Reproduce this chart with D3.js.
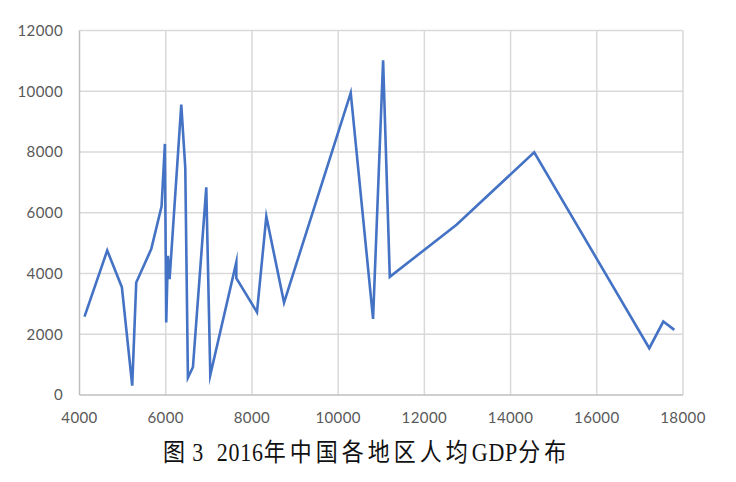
<!DOCTYPE html>
<html><head><meta charset="utf-8">
<script src="https://cdn.jsdelivr.net/npm/d3@7"></script>
<style>body{margin:0;background:#fff;}</style>
</head><body>
<svg id="c" width="736" height="482"></svg>
<script>
const xValues = [4116,4643,4983,5223,5316,5664,5904,5981,6012,6050,6090,6361,6454,6515,6631,6941,7034,7638,7638,8117,8334,8745,10292,10810,11043,11198,12746,14548,17218,17543,17799];
const yValues = [2582,4758,3550,307,3703,4803,6209,8266,2384,4583,3815,9562,7474,570,913,6836,659,4375,3848,2726,5879,3044,9947,2506,11023,3890,5605,7990,1540,2418,2143];
const xTicks = [4000,6000,8000,10000,12000,14000,16000,18000];
const yTicks = [0,2000,4000,6000,8000,10000,12000];
const titleParts = [
  {t:"图", ls:1},
  {t:" 3  2016", ls:0.8},
  {t:"年中国各地区人均", ls:4},
  {t:"GDP", ls:0.8},
  {t:"分布", ls:4}
];

const svg = d3.select("#c");
const x = d3.scaleLinear().domain([4000,18000]).range([79.5,683]);
const y = d3.scaleLinear().domain([0,12000]).range([395,30.5]);

svg.append("g").selectAll("line").data(yTicks.slice(1)).join("line")
  .attr("x1",x(4000)).attr("x2",x(18000)).attr("y1",d=>y(d)).attr("y2",d=>y(d))
  .attr("stroke","#d9d9d9").attr("stroke-width",1.5);
svg.append("g").selectAll("line").data(xTicks.slice(1)).join("line")
  .attr("x1",d=>x(d)).attr("x2",d=>x(d)).attr("y1",y(0)).attr("y2",y(12000))
  .attr("stroke","#d9d9d9").attr("stroke-width",1.5);
svg.append("line").attr("x1",x(4000)).attr("x2",x(4000)).attr("y1",y(0)).attr("y2",y(12000))
  .attr("stroke","#bfbfbf").attr("stroke-width",1.5);
svg.append("line").attr("x1",x(4000)).attr("x2",x(18000)).attr("y1",y(0)).attr("y2",y(0))
  .attr("stroke","#bfbfbf").attr("stroke-width",1.5);

const tickFont = "Lato, 'Open Sans', sans-serif";
svg.append("g").selectAll("text").data(yTicks).join("text")
  .attr("x",63).attr("y",d=>y(d)).attr("dy","0.35em").attr("text-anchor","end")
  .attr("font-family",tickFont).attr("font-size",15).attr("letter-spacing",0.4).attr("fill","#595959").text(d=>d);
svg.append("g").selectAll("text").data(xTicks).join("text")
  .attr("x",d=>x(d)).attr("y",423).attr("text-anchor","middle")
  .attr("font-family",tickFont).attr("font-size",15).attr("letter-spacing",0.4).attr("fill","#595959").text(d=>d);

const data = xValues.map((v,i)=>[v,yValues[i]]);
svg.append("path").datum(data)
  .attr("d",d3.line().x(d=>x(d[0])).y(d=>y(d[1])))
  .attr("fill","none").attr("stroke","#4472c4").attr("stroke-width",2.6)
  .attr("stroke-linejoin","miter").attr("stroke-miterlimit",10);

const tt = svg.append("text").attr("transform","translate(163,461) scale(1,1.12)")
  .attr("x",0).attr("y",0)
  .attr("font-family","'Liberation Serif','DejaVu Serif','Noto Sans CJK SC',serif")
  .attr("font-size",22).attr("fill","#111").style("white-space","pre");
tt.selectAll("tspan").data(titleParts).join("tspan")
  .attr("letter-spacing",d=>d.ls)
  .text(d=>d.t);
</script>
</body></html>
